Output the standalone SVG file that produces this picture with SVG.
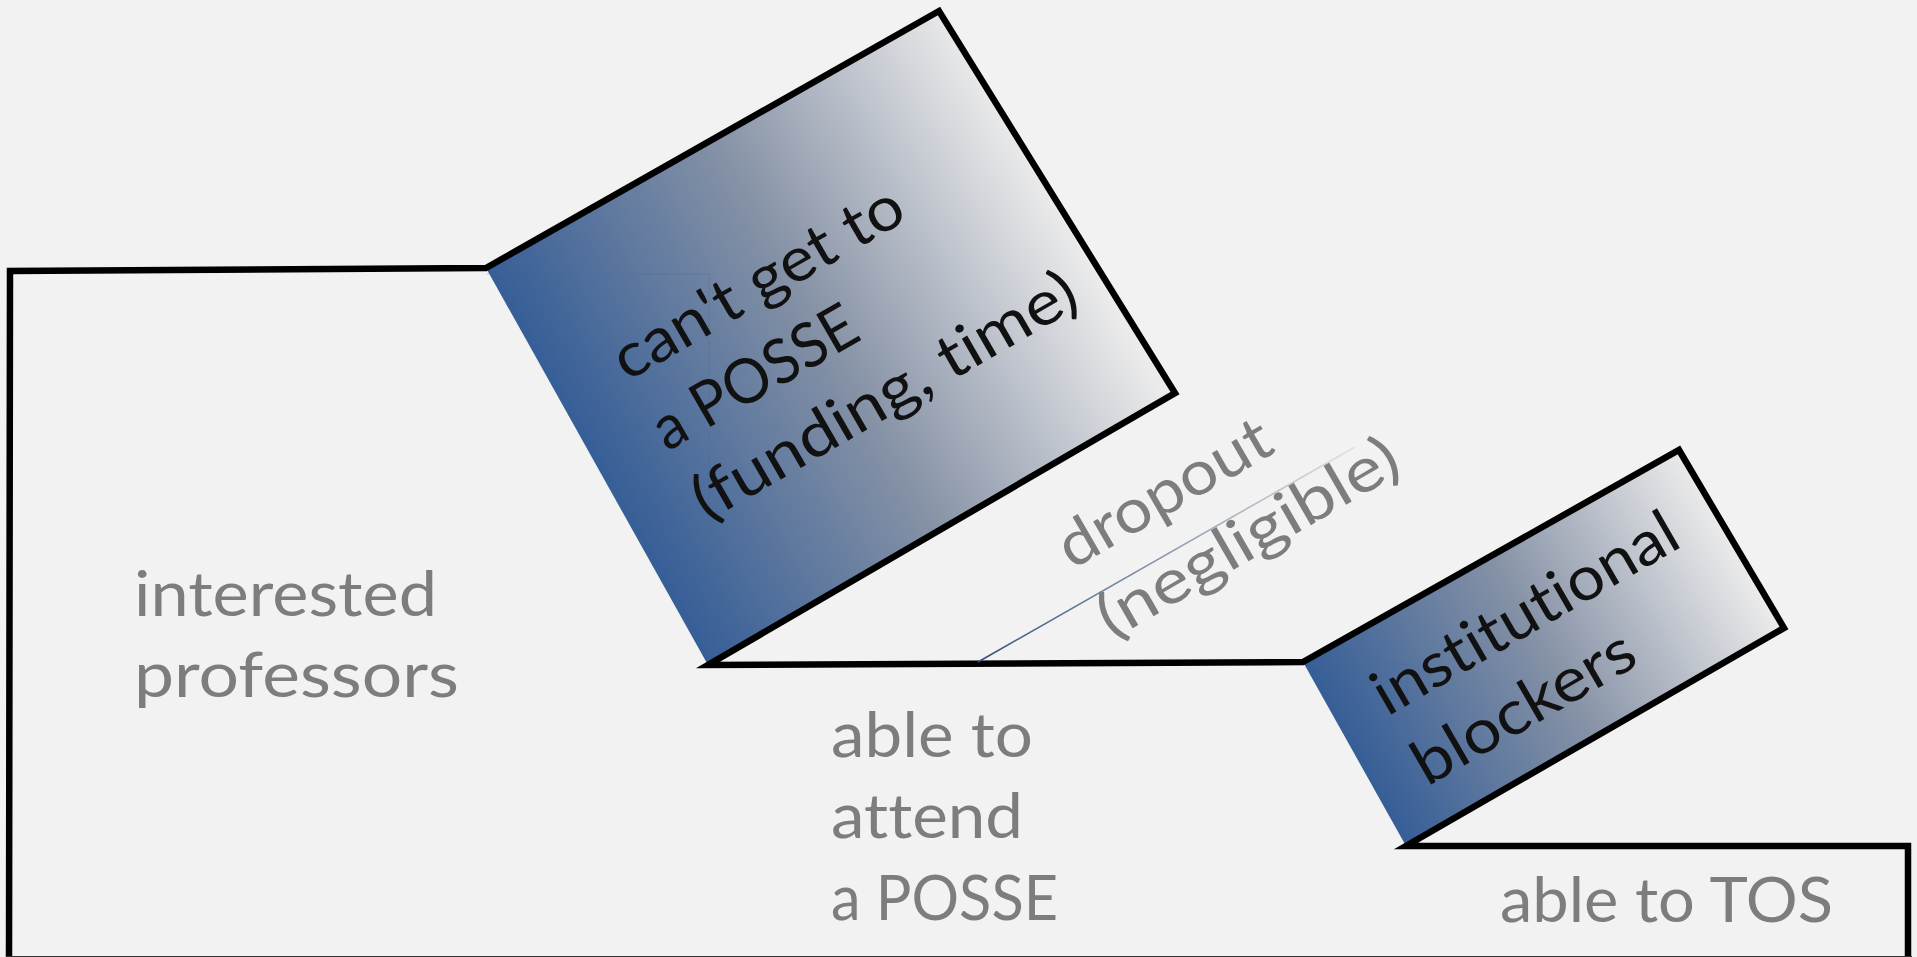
<svg xmlns="http://www.w3.org/2000/svg" width="1917" height="957" viewBox="0 0 1917 957">
  <defs>
    <linearGradient id="gBig" gradientUnits="userSpaceOnUse" x1="486" y1="268" x2="949" y2="10">
      <stop offset="0" stop-color="#365e97"/>
      <stop offset="0.5" stop-color="#8692a6"/>
      <stop offset="1" stop-color="#ebebeb"/>
    </linearGradient>
    <linearGradient id="gSmall" gradientUnits="userSpaceOnUse" x1="1303" y1="661" x2="1681" y2="450">
      <stop offset="0" stop-color="#365e97"/>
      <stop offset="0.5" stop-color="#8692a6"/>
      <stop offset="1" stop-color="#ebebeb"/>
    </linearGradient>
    <linearGradient id="gLine" gradientUnits="userSpaceOnUse" x1="978" y1="662" x2="1355" y2="447">
      <stop offset="0" stop-color="#34507a"/>
      <stop offset="1" stop-color="#e2e2e2"/>
    </linearGradient>
    <style>
      .outline { fill: none; stroke: #000; stroke-width: 6.5; stroke-linejoin: miter; stroke-miterlimit: 10; }
      .lbl { font-family: Lato, "Noto Sans", "Liberation Sans", sans-serif; font-size: 62px; font-weight: 400; fill: #7d7d7d; font-variant-ligatures: none; font-feature-settings: "liga" 0, "clig" 0; }
      .dark { fill: #111111; }
      .ghost { fill: none; stroke: #4a6a9a; stroke-width: 1; opacity: 0.35; }
    </style>
  </defs>

  <rect x="0" y="0" width="1917" height="957" fill="#f2f2f2"/>

  <g id="node-interested">
    <text class="lbl" x="134" y="616" textLength="303" lengthAdjust="spacingAndGlyphs">interested</text>
    <text class="lbl" x="134" y="697" textLength="325" lengthAdjust="spacingAndGlyphs">professors</text>
  </g>

  <g id="node-cant-get">
    <polygon points="486,268 939,11 1175,393 708,665" fill="url(#gBig)"/>
    <polyline class="ghost" points="487,274 709,274 709,660"/>
    <g class="lbl dark">
      <text x="627" y="382" transform="rotate(-30 627 382)" textLength="326" lengthAdjust="spacingAndGlyphs">can't get to</text>
      <text x="667" y="452" transform="rotate(-30 667 452)" textLength="227" lengthAdjust="spacingAndGlyphs">a POSSE</text>
      <text x="707" y="522" transform="rotate(-30 707 522)" textLength="434" lengthAdjust="spacingAndGlyphs">(funding, time)</text>
    </g>
  </g>

  <g id="node-institutional">
    <polygon points="1303,662 1679,450 1784,628 1406,846" fill="url(#gSmall)"/>
    <polyline class="ghost" points="1304,664 1407,664 1407,840"/>
    <g class="lbl dark">
      <text x="1387" y="717" transform="rotate(-30 1387 717)" textLength="343" lengthAdjust="spacingAndGlyphs">institutional</text>
      <text x="1427" y="787" transform="rotate(-30 1427 787)" textLength="247" lengthAdjust="spacingAndGlyphs">blockers</text>
    </g>
  </g>

  <g id="node-dropout">
    <text class="lbl" x="1072" y="570" transform="rotate(-30 1072 570)" textLength="237" lengthAdjust="spacingAndGlyphs">dropout</text>
    <text class="lbl" x="1112" y="640" transform="rotate(-30 1112 640)" textLength="338" lengthAdjust="spacingAndGlyphs">(negligible)</text>
  </g>

  <g id="node-attend">
    <text class="lbl" x="831" y="757" textLength="202" lengthAdjust="spacingAndGlyphs">able to</text>
    <text class="lbl" x="831" y="838" textLength="192" lengthAdjust="spacingAndGlyphs">attend</text>
    <text class="lbl" x="831" y="920" textLength="227" lengthAdjust="spacingAndGlyphs">a POSSE</text>
  </g>

  <g id="node-tos">
    <text class="lbl" x="1500" y="922" textLength="333" lengthAdjust="spacingAndGlyphs">able to TOS</text>
  </g>

  <g id="connectors">
    <path class="outline" d="M 9,960 L 10,271 L 486,268 L 939,11 L 1175,393 L 708,665 L 1303,662 L 1679,450 L 1784,628 L 1406,846 L 1908,846 L 1908,960"/>
    <line x1="6" y1="958" x2="1912" y2="958" stroke="#333" stroke-width="4"/>
    <line x1="978" y1="662" x2="1355" y2="447" stroke="url(#gLine)" stroke-width="1.6"/>
  </g>
</svg>
